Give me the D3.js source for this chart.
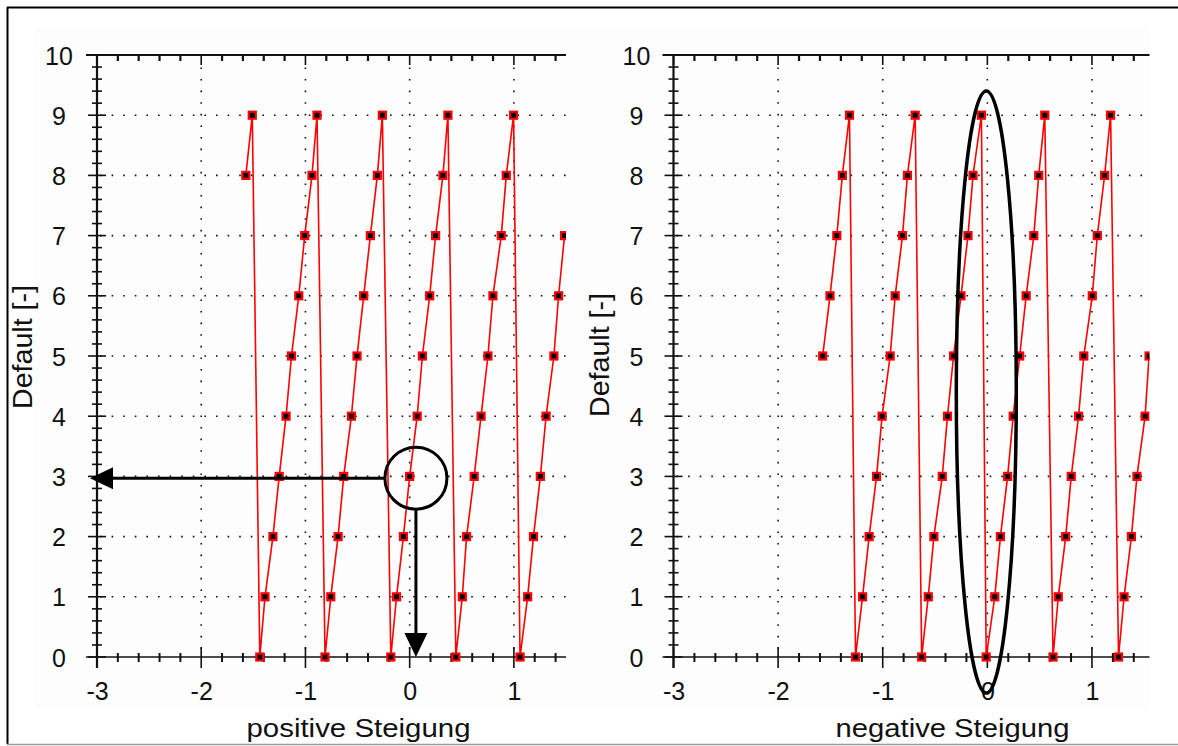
<!DOCTYPE html>
<html>
<head>
<meta charset="utf-8">
<script src="https://cdn.jsdelivr.net/npm/d3@7"></script>
<style>
  html, body { margin: 0; padding: 0; background: #ffffff; }
  svg { display: block; }
  text { font-family: "Liberation Sans", Arial, sans-serif; fill: #111; }
</style>
</head>
<body>
<svg id="chart" width="1178" height="746"></svg>
<script>
// ---------- data ----------
const yTickValues = [0, 1, 2, 3, 4, 5, 6, 7, 8, 9, 10];
const xTickValues = [-3, -2, -1, 0, 1];
const xTickLabels = ["-3", "-2", "-1", "0", "1"];

// left panel: "positive Steigung"
const leftX = [-1.572, -1.510,
  -1.438, -1.388, -1.312, -1.252, -1.186, -1.134, -1.064, -1.007, -0.937, -0.889,
  -0.812, -0.757, -0.687, -0.633, -0.559, -0.505, -0.441, -0.377, -0.310, -0.262,
  -0.181, -0.126, -0.060, 0.000, 0.072, 0.122, 0.192, 0.249, 0.319, 0.367,
  0.443, 0.505, 0.546, 0.619, 0.685, 0.751, 0.799, 0.879, 0.927, 0.997,
  1.059, 1.132, 1.188, 1.254, 1.309, 1.384, 1.429, 1.486];
const leftY = [8, 9,
  0, 1, 2, 3, 4, 5, 6, 7, 8, 9,
  0, 1, 2, 3, 4, 5, 6, 7, 8, 9,
  0, 1, 2, 3, 4, 5, 6, 7, 8, 9,
  0, 1, 2, 3, 4, 5, 6, 7, 8, 9,
  0, 1, 2, 3, 4, 5, 6, 7];

// right panel: "negative Steigung"
const rightX = [-1.574, -1.504, -1.439, -1.386, -1.318,
  -1.260, -1.193, -1.130, -1.059, -1.006, -0.929, -0.881, -0.811, -0.764, -0.690,
  -0.628, -0.565, -0.511, -0.431, -0.381, -0.323, -0.252, -0.185, -0.137, -0.057,
  -0.011, 0.071, 0.125, 0.194, 0.247, 0.309, 0.371, 0.444, 0.491, 0.549,
  0.628, 0.678, 0.749, 0.802, 0.872, 0.922, 1.003, 1.051, 1.121, 1.178,
  1.254, 1.307, 1.377, 1.430, 1.508, 1.546];
const rightY = [5, 6, 7, 8, 9,
  0, 1, 2, 3, 4, 5, 6, 7, 8, 9,
  0, 1, 2, 3, 4, 5, 6, 7, 8, 9,
  0, 1, 2, 3, 4, 5, 6, 7, 8, 9,
  0, 1, 2, 3, 4, 5, 6, 7, 8, 9,
  0, 1, 2, 3, 4, 5];

const xTitles = ["positive Steigung", "negative Steigung"];
const yTitle = "Default [-]";

// ---------- drawing ----------
const svg = d3.select("#chart");

// outer frame & light panel
svg.append("rect").attr("x", 35).attr("y", 28).attr("width", 1115).attr("height", 680).attr("fill", "#fdfdfd");
svg.append("line").attr("x1", 7).attr("x2", 1178).attr("y1", 7.5).attr("y2", 7.5).attr("stroke", "#000").attr("stroke-width", 2);
svg.append("line").attr("x1", 7.5).attr("x2", 7.5).attr("y1", 7).attr("y2", 744).attr("stroke", "#000").attr("stroke-width", 2);
svg.append("line").attr("x1", 7).attr("x2", 1178).attr("y1", 744.5).attr("y2", 744.5).attr("stroke", "#9a9a9a").attr("stroke-width", 1.5);

const panels = [
  { xs: leftX, ys: leftY, xmax: 1.5, r0: 97, r1: 566, title: xTitles[0], titleX: 358.5, titleLen: 224, yTitleX: 32, yTitleY: 347, labelX: 59 },
  { xs: rightX, ys: rightY, xmax: 1.55, r0: 673.5, r1: 1149.5, title: xTitles[1], titleX: 952.5, titleLen: 234, yTitleX: 609, yTitleY: 355, labelX: 636.5 }
];

const yScale = d3.scaleLinear().domain([0, 10]).range([657, 55]);
const fine = d3.range(0, 51).map(i => i / 5); // 0.2 steps on y

panels.forEach((p, pi) => {
  const x = d3.scaleLinear().domain([-3, p.xmax]).range([p.r0, p.r1]);
  const g = svg.append("g");
  const y0 = yScale(0), y10 = yScale(10);

  // grid (dotted)
  const grid = g.append("g").attr("stroke", "#111").attr("stroke-width", 1.6).attr("stroke-dasharray", "1.6,10");
  yTickValues.filter(v => v > 0 && v < 10).forEach(v => {
    grid.append("line").attr("x1", x(-3) + 3).attr("x2", x(p.xmax)).attr("y1", yScale(v)).attr("y2", yScale(v));
  });
  xTickValues.filter(v => v > -3).forEach(v => {
    grid.append("line").attr("x1", x(v)).attr("x2", x(v)).attr("y1", y0 - 8).attr("y2", y10 + 8);
  });

  // x minor tick positions (0.2 steps)
  const xFine = d3.range(-15, Math.floor(p.xmax * 5 + 1e-6) + 1).map(i => i / 5);
  const isInt = v => Math.abs(v - Math.round(v)) < 1e-6;

  // top axis
  g.append("line").attr("x1", p.r0 - 11).attr("x2", p.r1).attr("y1", y10).attr("y2", y10).attr("stroke", "#111").attr("stroke-width", 2);
  xFine.forEach(v => {
    g.append("line").attr("x1", x(v)).attr("x2", x(v)).attr("y1", y10).attr("y2", y10 + (isInt(v) ? 10 : 6))
      .attr("stroke", "#111").attr("stroke-width", isInt(v) ? 1.6 : 2.2);
  });

  // bottom axis
  g.append("line").attr("x1", p.r0 - 11).attr("x2", p.r1).attr("y1", y0).attr("y2", y0).attr("stroke", "#111").attr("stroke-width", 1.6);
  xFine.forEach(v => {
    g.append("line").attr("x1", x(v)).attr("x2", x(v))
      .attr("y1", isInt(v) ? y0 - 10 : y0 - 4).attr("y2", isInt(v) ? y0 + 11 : y0 + 5)
      .attr("stroke", "#111").attr("stroke-width", isInt(v) ? 1.6 : 2);
  });

  // y axis
  g.append("line").attr("x1", p.r0).attr("x2", p.r0).attr("y1", y10).attr("y2", y0 + 11).attr("stroke", "#111").attr("stroke-width", 2.2);
  fine.forEach(v => {
    const maj = isInt(v);
    g.append("line").attr("x1", p.r0 - (maj ? 9 : 5)).attr("x2", p.r0 + (maj ? 9 : 5))
      .attr("y1", yScale(v)).attr("y2", yScale(v)).attr("stroke", "#111").attr("stroke-width", 1.6);
  });

  // tick labels through d3 axes
  const xAxis = d3.axisBottom(x).tickValues(xTickValues).tickFormat((d, i) => xTickLabels[i]).tickSize(0);
  const gx = g.append("g").attr("transform", `translate(0,${y0})`).call(xAxis);
  gx.select(".domain").remove();
  gx.selectAll("text").attr("y", 43).attr("dy", null).attr("font-size", 25)
    .attr("font-family", "Liberation Sans, Arial, sans-serif").attr("fill", "#111");

  const yAxis = d3.axisLeft(yScale).tickValues(yTickValues).tickFormat(d3.format("d")).tickSize(0);
  const gy = g.append("g").attr("transform", `translate(${p.labelX},0)`).call(yAxis);
  gy.select(".domain").remove();
  gy.selectAll("text").attr("x", 0).attr("dy", "0.36em").attr("text-anchor", "middle").attr("font-size", 25)
    .attr("font-family", "Liberation Sans, Arial, sans-serif").attr("fill", "#111");

  // titles
  g.append("text").attr("x", p.titleX).attr("y", 737).attr("text-anchor", "middle").attr("font-size", 26)
    .attr("textLength", p.titleLen).attr("lengthAdjust", "spacingAndGlyphs").text(p.title);
  g.append("text").attr("transform", `translate(${p.yTitleX},${p.yTitleY}) rotate(-90)`).attr("text-anchor", "middle")
    .attr("font-size", 27).attr("textLength", 124).attr("lengthAdjust", "spacingAndGlyphs").text(yTitle);

  // data
  const clipId = "clip" + pi;
  svg.append("clipPath").attr("id", clipId).append("rect")
    .attr("x", p.r0).attr("y", y10 - 10).attr("width", p.r1 - p.r0).attr("height", y0 - y10 + 20);
  const dg = g.append("g").attr("clip-path", `url(#${clipId})`);
  const pts = p.xs.map((v, i) => [v, p.ys[i]]);
  const line = d3.line().x(d => x(d[0])).y(d => yScale(d[1]));
  dg.append("path").attr("d", line(pts)).attr("fill", "none").attr("stroke", "#ff0000").attr("stroke-width", 1.6);
  dg.selectAll("rect.pt").data(pts).join("rect").attr("class", "pt")
    .attr("x", d => x(d[0]) - 3.5).attr("y", d => yScale(d[1]) - 3.5)
    .attr("width", 7).attr("height", 7).attr("fill", "#000").attr("stroke", "#ff0000").attr("stroke-width", 2.2);

  // annotations
  if (pi === 0) {
    const cx = x(0.06), cy = yScale(2.97), r = 31;
    const a = g.append("g").attr("stroke", "#000").attr("stroke-width", 3).attr("fill", "none");
    a.append("circle").attr("cx", cx).attr("cy", cy).attr("r", r);
    a.append("line").attr("x1", cx - r).attr("x2", x(-3) + 10).attr("y1", cy).attr("y2", cy);
    a.append("line").attr("x1", cx).attr("x2", cx).attr("y1", cy + r).attr("y2", y0 - 20);
    g.append("path").attr("d", `M${x(-3) - 7},${cy} L${x(-3) + 16},${cy - 11} L${x(-3) + 16},${cy + 11} Z`).attr("fill", "#000");
    g.append("path").attr("d", `M${cx},${y0} L${cx - 11.5},${y0 - 24} L${cx + 11.5},${y0 - 24} Z`).attr("fill", "#000");
  } else {
    g.append("ellipse").attr("cx", x(-0.01)).attr("cy", yScale(4.4)).attr("rx", 30).attr("ry", 301)
      .attr("fill", "none").attr("stroke", "#000").attr("stroke-width", 3.5);
  }
});
</script>
</body>
</html>
